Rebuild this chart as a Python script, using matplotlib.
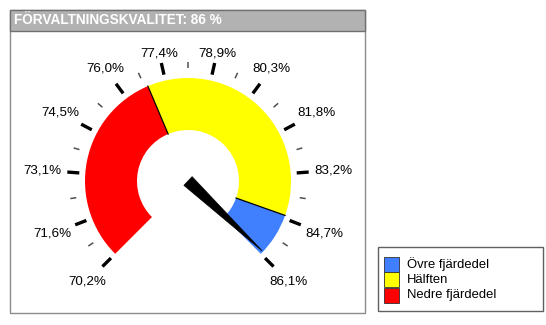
import numpy as np
import matplotlib
matplotlib.use('Agg')
import matplotlib.pyplot as plt
from matplotlib.patches import Wedge, Rectangle, Polygon

plt.rcParams['font.family'] = ['Liberation Sans', 'DejaVu Sans']

# gauge data
title = 'FÖRVALTNINGSKVALITET: 86 %'
scale_values = [70.2, 71.6, 73.1, 74.5, 76.0, 77.4, 78.9, 80.3, 81.8, 83.2, 84.7, 86.1]
scale_labels = ['70,2%', '71,6%', '73,1%', '74,5%', '76,0%', '77,4%',
                '78,9%', '80,3%', '81,8%', '83,2%', '84,7%', '86,1%']
band_names = ['Nedre fjärdedel', 'Hälften', 'Övre fjärdedel']
band_edges = [70.2, 76.8, 84.6, 86.1]
band_colors = ['#ff0000', '#ffff00', '#4080ff']
value = 86.0

W, H = 546, 325
fig = plt.figure(figsize=(W / 100, H / 100), dpi=100)
ax = fig.add_axes([0, 0, 1, 1])
ax.set_xlim(0, W)
ax.set_ylim(0, H)
ax.axis('off')

vmin, vmax = scale_values[0], scale_values[-1]
cx, cy = 188, H - 181
r_out, r_in = 103, 51


def angle(v):
    # 225 deg at min, -45 deg at max (270 deg sweep, clockwise)
    return 225 - (v - vmin) / (vmax - vmin) * 270


def point(v, r):
    a = np.radians(angle(v))
    return cx + r * np.cos(a), cy + r * np.sin(a)


# panel and title bar
ax.add_patch(Rectangle((10, H - 313), 355, 303, facecolor='white', edgecolor='#8c8c8c', lw=1.0))
ax.add_patch(Rectangle((10, H - 31), 355, 21, facecolor='#b2b2b2', edgecolor='#707070', lw=1.0))
ax.text(14, H - 20.5, title, color='white', fontsize=9.8, fontweight='bold', va='center', ha='left')

# colour bands
for lo, hi, c in zip(band_edges[:-1], band_edges[1:], band_colors):
    ax.add_patch(Wedge((cx, cy), r_out, angle(hi), angle(lo), width=r_out - r_in,
                       facecolor=c, edgecolor='none'))
for b in band_edges[1:-1]:
    x0, y0 = point(b, r_in)
    x1, y1 = point(b, r_out)
    ax.plot([x0, x1], [y0, y1], color='black', lw=0.9)

# ticks and labels
for v, lab in zip(scale_values, scale_labels):
    x0, y0 = point(v, 109)
    x1, y1 = point(v, 121)
    ax.plot([x0, x1], [y0, y1], color='black', lw=2.4, solid_capstyle='butt')
    a = np.radians(angle(v))
    r = 122 + abs(np.cos(a)) * 24 + abs(np.sin(a)) * 4
    ax.text(cx + r * np.cos(a), cy + r * np.sin(a), lab, fontsize=9.6,
            ha='center', va='center')
for lo, hi in zip(scale_values[:-1], scale_values[1:]):
    m = (lo + hi) / 2
    x0, y0 = point(m, 113)
    x1, y1 = point(m, 119)
    ax.plot([x0, x1], [y0, y1], color='#505050', lw=1.1, solid_capstyle='butt')

# needle
a = np.radians(angle(value))
tip = (cx + 102 * np.cos(a), cy + 102 * np.sin(a))
px, py = -np.sin(a) * 6, np.cos(a) * 6
ax.add_patch(Polygon([(cx + px, cy + py), (cx - px, cy - py), tip],
                     closed=True, facecolor='black', edgecolor='black', lw=0.5))

# legend
ax.add_patch(Rectangle((378, H - 311), 165, 64, facecolor='white', edgecolor='#606060', lw=1.0))
for i, (name, c) in enumerate(zip(band_names[::-1], band_colors[::-1])):
    top = 257 + i * 15.3
    ax.add_patch(Rectangle((384, H - top - 15), 15, 15, facecolor=c, edgecolor='#303030', lw=0.6))
    ax.text(407, H - top - 7.5, name, fontsize=9.4, ha='left', va='center')

fig.savefig('out.png', dpi=100)
